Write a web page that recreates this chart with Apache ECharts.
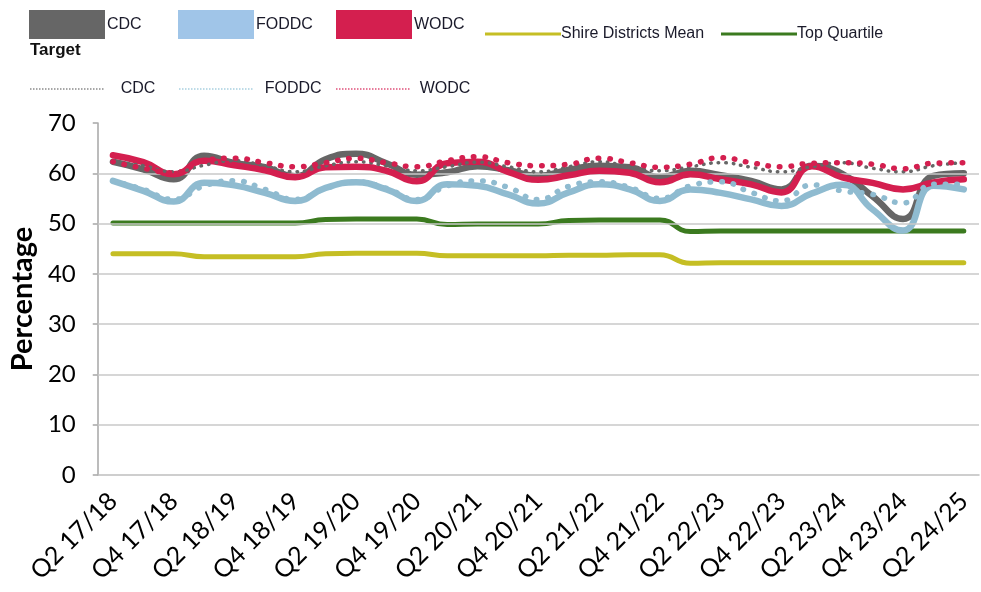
<!DOCTYPE html>
<html>
<head>
<meta charset="utf-8">
<script src="https://cdn.jsdelivr.net/npm/echarts@6/dist/echarts.min.js"></script>
<style>
  html, body { margin: 0; padding: 0; background: #ffffff; }
  #chart { width: 981px; height: 592px; }
</style>
</head>
<body>
<div id="chart"></div>
<script>
// Quarterly categories (financial years)
const categories = [
  'Q2 17/18', 'Q3 17/18', 'Q4 17/18', 'Q1 18/19', 'Q2 18/19', 'Q3 18/19', 'Q4 18/19',
  'Q1 19/20', 'Q2 19/20', 'Q3 19/20', 'Q4 19/20', 'Q1 20/21', 'Q2 20/21', 'Q3 20/21',
  'Q4 20/21', 'Q1 21/22', 'Q2 21/22', 'Q3 21/22', 'Q4 21/22', 'Q1 22/23', 'Q2 22/23',
  'Q3 22/23', 'Q4 22/23', 'Q1 23/24', 'Q2 23/24', 'Q3 23/24', 'Q4 23/24', 'Q1 24/25',
  'Q2 24/25'
];

// Actual performance (%)
const cdc = [62.3, 60.8, 58.8, 63.5, 62.0, 61.2, 59.4, 62.8, 63.9, 62.0, 59.7, 60.2, 61.4, 60.6, 59.5,
             60.7, 61.5, 61.2, 59.2, 60.5, 59.6, 58.5, 56.8, 61.5, 59.9, 55.4, 50.9, 59.5, 60.0];
const foddc = [58.5, 56.5, 54.4, 58.1, 57.6, 56.1, 54.5, 57.1, 58.2, 56.8, 54.5, 57.8, 57.5, 55.8, 54.0,
               56.2, 57.8, 56.8, 54.5, 56.8, 56.1, 54.8, 53.5, 56.0, 57.7, 52.8, 48.6, 57.5, 56.8];
const wodc = [63.6, 62.2, 59.8, 62.5, 61.6, 60.6, 59.2, 61.2, 61.3, 60.5, 58.4, 62.0, 62.3, 60.3, 58.7,
              59.6, 60.5, 60.1, 58.2, 59.8, 58.8, 57.8, 56.2, 61.4, 59.2, 58.1, 56.8, 58.2, 58.8];

// Targets (%)
const cdcTarget = [62.3, 61.5, 60.3, 61.6, 62.5, 61.5, 60.3, 61.5, 62.3, 61.5, 60.5, 61.3, 62.2, 61.3, 60.3,
                   61.3, 62.3, 61.3, 60.5, 61.3, 62.1, 61.2, 60.3, 61.3, 62.1, 61.0, 60.3, 61.5, 62.1];
const foddcTarget = [58.5, 56.8, 54.8, 57.5, 58.5, 56.8, 54.8, 57.0, 58.3, 57.0, 54.8, 57.5, 58.5, 57.2, 54.8,
                     57.4, 58.3, 57.2, 55.0, 57.5, 58.3, 56.2, 54.5, 57.7, 56.5, 55.8, 54.1, 57.8, 57.8];
const wodcTarget = [62.3, 61.0, 60.1, 62.5, 63.0, 62.1, 61.3, 62.1, 63.0, 62.1, 61.3, 62.5, 63.3, 62.1, 61.5,
                    61.8, 63.0, 62.1, 61.2, 61.8, 63.1, 62.1, 61.3, 62.0, 62.1, 61.8, 60.9, 62.0, 62.1];

// Benchmarks (%)
const shireMean = [44.0, 44.0, 44.0, 43.4, 43.4, 43.4, 43.4, 44.0, 44.1, 44.1, 44.1, 43.6, 43.6, 43.6, 43.6,
                   43.7, 43.7, 43.8, 43.8, 42.1, 42.2, 42.2, 42.2, 42.2, 42.2, 42.2, 42.2, 42.2, 42.2];
const topQuartile = [50.1, 50.1, 50.1, 50.1, 50.1, 50.1, 50.1, 50.8, 50.9, 50.9, 50.9, 49.8, 49.9, 49.9, 49.9,
                     50.6, 50.7, 50.7, 50.7, 48.4, 48.5, 48.5, 48.5, 48.5, 48.5, 48.5, 48.5, 48.5, 48.5];

// Value axis ticks; horizontal gridlines sit on the inner ones
const yMin = 0, yMax = 70, yStep = 10;
const gridValues = [10, 20, 30, 40, 50, 60];

const C_GREY = '#666666', C_BLUE = '#8FBBD0', C_RED = '#D41F4F';
const C_YELLOW = '#C5BE24', C_GREEN = '#3B7A1F';

const legendFont = { fontFamily: 'Liberation Sans, Arial, sans-serif', fontSize: 16, color: '#1a1a2a' };

// A row of small squares used as the dotted legend key
const dotPath = 'path://' + Array.from({ length: 25 }, (_, k) => 'M' + (k * 3) + ',0h1.5v1.5h-1.5z').join('');

function solid(name, data, color, z) {
  return { name, type: 'line', data, smooth: 0.5, symbol: 'none', z,
           lineStyle: { color, width: 6.5, cap: 'round', join: 'round' }, itemStyle: { color } };
}
function dotted(name, data, color, w, gap, z) {
  return { name, type: 'line', data, smooth: 0.5, symbol: 'none', z,
           lineStyle: { color, width: w, type: [0.5, gap], cap: 'round' }, itemStyle: { color } };
}
function bench(name, data, color, z) {
  return { name, type: 'line', data, smooth: 0.5, symbol: 'none', z,
           lineStyle: { color, width: 5, cap: 'round', join: 'round' }, itemStyle: { color } };
}

function rectLegend(name, color, left) {
  return { data: [{ name, itemStyle: { color } }], left, top: 5, icon: 'rect',
           itemWidth: 76, itemHeight: 29, itemGap: 0, selectedMode: false,
           textStyle: Object.assign({}, legendFont, { padding: [3, 0, 0, -3] }) };
}
function keyLegend(name, color, icon, left, top, width, height, padLeft) {
  return { data: [{ name, itemStyle: { color } }], left, top, icon,
           itemWidth: width, itemHeight: height, itemGap: 0, selectedMode: false,
           formatter: n => n.replace(' Target', ''),
           textStyle: Object.assign({}, legendFont, { padding: [0, 0, 0, padLeft] }) };
}

const chart = echarts.init(document.getElementById('chart'), null, { renderer: 'canvas' });

chart.setOption({
  animation: false,
  backgroundColor: '#ffffff',
  grid: { left: 96, top: 123, width: 883, height: 352, containLabel: false },
  legend: [
    rectLegend('CDC', C_GREY, 24),
    rectLegend('FODDC', '#A0C5E8', 173),
    rectLegend('WODC', C_RED, 331),
    keyLegend('Shire Districts Mean', C_YELLOW, 'rect', 480, 21, 76, 3, -5),
    keyLegend('Top Quartile', C_GREEN, 'rect', 716, 21, 76, 3, -5),
    keyLegend('CDC Target', '#8a8a8a', dotPath, 25, 76, 74, 1.5, 12),
    keyLegend('FODDC Target', '#a8cfe0', dotPath, 174, 76, 78, 1.5, 5),
    keyLegend('WODC Target', '#e0507a', dotPath, 331, 76, 76, 1.5, 4)
  ],
  graphic: [
    { type: 'text', left: 30, top: 42,
      style: { text: 'Target', font: 'bold 17px "Liberation Sans", Arial, sans-serif', fill: '#111' } }
  ],
  xAxis: {
    type: 'category',
    data: categories,
    boundaryGap: true,
    axisLine: { show: true, lineStyle: { color: '#BFBFBF', width: 1.5 } },
    axisTick: { show: false },
    axisLabel: {
      interval: 1, rotate: 45, margin: 22,
      fontFamily: 'Lato, sans-serif', fontSize: 25, color: '#000'
    },
    splitLine: { show: false }
  },
  yAxis: {
    type: 'value',
    min: yMin, max: yMax, interval: yStep,
    name: 'Percentage',
    nameLocation: 'middle',
    nameGap: 56,
    nameTextStyle: { fontFamily: 'Lato, sans-serif', fontWeight: 'bold', fontSize: 29, color: '#000' },
    axisLine: { show: true, lineStyle: { color: '#A6A6A6', width: 1.5 } },
    axisTick: { show: true, length: 5, lineStyle: { color: '#A6A6A6', width: 1.5 } },
    axisLabel: { margin: 22, fontFamily: 'Lato, sans-serif', fontSize: 24, color: '#000' },
    splitLine: { show: false }
  },
  series: [
    {
      name: 'gridlines', type: 'line', data: categories.map(() => null), z: 1, silent: true,
      markLine: {
        silent: true, symbol: 'none', label: { show: false }, animation: false,
        lineStyle: { color: '#C8C8C8', width: 1.5, type: 'solid' },
        data: gridValues.map(v => ({ yAxis: v }))
      }
    },
    bench('Shire Districts Mean', shireMean, C_YELLOW, 2),
    bench('Top Quartile', topQuartile, C_GREEN, 2),
    solid('CDC', cdc, C_GREY, 3),
    solid('FODDC', foddc, C_BLUE, 4),
    solid('WODC', wodc, C_RED, 5),
    dotted('CDC Target', cdcTarget, C_GREY, 3.5, 7, 6),
    dotted('FODDC Target', foddcTarget, C_BLUE, 5.5, 11, 7),
    dotted('WODC Target', wodcTarget, C_RED, 5.5, 11, 8)
  ]
});
</script>
</body>
</html>
